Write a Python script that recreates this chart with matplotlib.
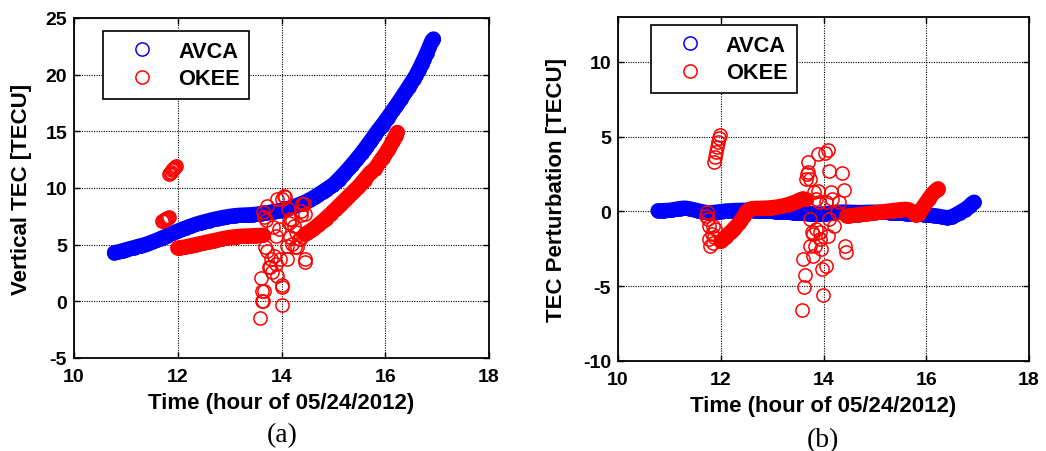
import numpy as np
import matplotlib
matplotlib.use('Agg')
import matplotlib.pyplot as plt

plt.rcParams['font.family'] = ['Liberation Sans', 'DejaVu Sans']
plt.rcParams['font.weight'] = 'bold'
plt.rcParams['axes.unicode_minus'] = False

# AVCA samples (hours UT)
avca_t = [10.78, 10.85, 10.90, 10.95, 11.00, 11.05, 11.10, 11.15, 11.20, 11.25,
          11.30, 11.35, 11.40, 11.45, 11.50, 11.55, 11.60, 11.65, 11.70, 11.75,
          11.80, 11.85, 11.90, 11.95, 12.00, 12.05, 12.10, 12.15, 12.20, 12.25,
          12.30, 12.35, 12.40, 12.45, 12.50, 12.55, 12.60, 12.65, 12.70, 12.75,
          12.80, 12.85, 12.90, 12.95, 13.00, 13.05, 13.10, 13.15, 13.20, 13.25,
          13.30, 13.35, 13.40, 13.45, 13.50, 13.55, 13.60, 13.65, 13.70, 13.75,
          13.80, 13.85, 13.90, 13.95, 14.00, 14.05, 14.10, 14.15, 14.20, 14.25,
          14.30, 14.35, 14.40, 14.45, 14.50, 14.55, 14.60, 14.65, 14.70, 14.75,
          14.80, 14.85, 14.90, 14.95, 15.00, 15.05, 15.10, 15.15, 15.20, 15.25,
          15.30, 15.35, 15.40, 15.45, 15.50, 15.55, 15.60, 15.65, 15.70, 15.75,
          15.80, 15.85, 15.90, 15.95, 16.00, 16.05, 16.10, 16.15, 16.20, 16.25,
          16.30, 16.35, 16.40, 16.45, 16.50, 16.55, 16.60, 16.65, 16.70, 16.75,
          16.80, 16.85, 16.90, 16.93]
avca_vtec = [4.30, 4.36, 4.42, 4.48, 4.55, 4.61, 4.67, 4.73, 4.80, 4.86,
             4.92, 4.98, 5.05, 5.13, 5.22, 5.31, 5.40, 5.50, 5.60, 5.70,
             5.80, 5.90, 6.00, 6.10, 6.20, 6.29, 6.38, 6.47, 6.56, 6.64,
             6.72, 6.80, 6.87, 6.94, 7.00, 7.06, 7.12, 7.18, 7.23, 7.28,
             7.33, 7.38, 7.42, 7.46, 7.50, 7.53, 7.56, 7.58, 7.60, 7.61,
             7.62, 7.63, 7.64, 7.66, 7.68, 7.71, 7.74, 7.77, 7.80, 7.84,
             7.88, 7.92, 7.96, 8.00, 8.05, 8.11, 8.17, 8.23, 8.30, 8.38,
             8.46, 8.55, 8.64, 8.74, 8.85, 8.97, 9.10, 9.24, 9.38, 9.53,
             9.68, 9.83, 9.98, 10.14, 10.30, 10.52, 10.75, 10.99, 11.23, 11.48,
             11.74, 12.00, 12.27, 12.55, 12.83, 13.12, 13.42, 13.73, 14.04, 14.36,
             14.68, 15.00, 15.30, 15.60, 15.90, 16.22, 16.54, 16.87, 17.20, 17.53,
             17.87, 18.21, 18.56, 18.91, 19.27, 19.63, 20.00, 20.45, 20.92, 21.40,
             21.90, 22.45, 23.00, 23.15]
avca_dtec = [0.05, 0.05, 0.06, 0.07, 0.08, 0.10, 0.13, 0.16, 0.19, 0.21,
             0.22, 0.20, 0.17, 0.13, 0.09, 0.05, 0.01, -0.03, -0.06, -0.08,
             -0.08, -0.07, -0.05, -0.03, -0.01, 0.01, 0.03, 0.04, 0.05, 0.06,
             0.07, 0.07, 0.08, 0.08, 0.08, 0.07, 0.07, 0.06, 0.05, 0.04,
             0.03, 0.02, 0.01, 0.00, 0.00, -0.01, -0.02, -0.03, -0.04, -0.05,
             -0.06, -0.07, -0.08, -0.09, -0.10, -0.11, -0.12, -0.13, -0.14, -0.15,
             -0.16, -0.17, -0.18, -0.18, -0.17, -0.15, -0.13, -0.10, -0.08, -0.06,
             -0.05, -0.04, -0.04, -0.04, -0.05, -0.06, -0.06, -0.07, -0.07, -0.07,
             -0.06, -0.06, -0.05, -0.05, -0.05, -0.05, -0.05, -0.06, -0.06, -0.07,
             -0.08, -0.09, -0.10, -0.11, -0.12, -0.13, -0.14, -0.15, -0.16, -0.17,
             -0.18, -0.19, -0.20, -0.21, -0.22, -0.24, -0.26, -0.28, -0.30, -0.33,
             -0.36, -0.39, -0.41, -0.40, -0.35, -0.27, -0.18, -0.08, 0.02, 0.12,
             0.24, 0.38, 0.55, 0.62]

# OKEE, continuous arcs before and after the disturbance
okee_band1_t = [12.00, 12.05, 12.10, 12.15, 12.20, 12.25, 12.30, 12.35, 12.40, 12.45,
                12.50, 12.55, 12.60, 12.65, 12.70, 12.75, 12.80, 12.85, 12.90, 12.95,
                13.00, 13.05, 13.10, 13.15, 13.20, 13.25, 13.30, 13.35, 13.40, 13.45,
                13.50, 13.55, 13.60, 13.65]
okee_band1_vtec = [4.70, 4.73, 4.77, 4.81, 4.86, 4.91, 4.96, 5.01, 5.06, 5.11,
                   5.16, 5.21, 5.26, 5.31, 5.36, 5.41, 5.46, 5.51, 5.56, 5.60,
                   5.64, 5.67, 5.70, 5.72, 5.74, 5.75, 5.76, 5.77, 5.78, 5.79,
                   5.80, 5.81, 5.82, 5.84]
okee_band1_dtec = [-2.00, -1.85, -1.68, -1.52, -1.35, -1.18, -1.00, -0.80, -0.58, -0.30,
                   -0.02, 0.12, 0.18, 0.20, 0.21, 0.21, 0.22, 0.22, 0.23, 0.24,
                   0.26, 0.28, 0.30, 0.33, 0.36, 0.40, 0.45, 0.50, 0.56, 0.62,
                   0.70, 0.78, 0.85, 0.80]

okee_band2_t = [14.45, 14.50, 14.55, 14.60, 14.65, 14.70, 14.75, 14.80, 14.85, 14.90,
                14.95, 15.00, 15.05, 15.10, 15.15, 15.20, 15.25, 15.30, 15.35, 15.40,
                15.45, 15.50, 15.55, 15.60, 15.65, 15.70, 15.75, 15.80, 15.85, 15.90,
                15.95, 16.00, 16.05, 16.10, 16.15, 16.20, 16.23]
okee_band2_vtec = [5.90, 6.05, 6.20, 6.35, 6.52, 6.70, 6.90, 7.10, 7.30, 7.50,
                   7.72, 7.95, 8.17, 8.40, 8.62, 8.85, 9.07, 9.30, 9.52, 9.75,
                   9.97, 10.20, 10.47, 10.75, 11.02, 11.30, 11.50, 11.70, 12.00, 12.35,
                   12.68, 13.00, 13.37, 13.75, 14.17, 14.60, 14.90]
okee_band2_dtec = [-0.30, -0.29, -0.27, -0.25, -0.23, -0.21, -0.19, -0.17, -0.15, -0.13,
                   -0.11, -0.09, -0.07, -0.04, -0.02, 0.00, 0.02, 0.04, 0.06, 0.08,
                   0.10, 0.12, 0.13, 0.14, 0.12, 0.05, -0.10, -0.25, -0.15, 0.10,
                   0.35, 0.60, 0.85, 1.08, 1.28, 1.45, 1.52]

# OKEE, short jumpy segment just before 12 UT
okee_early_t_a = [11.70, 11.72, 11.74, 11.76, 11.78, 11.80, 11.82, 11.84,
                  11.83, 11.85, 11.87, 11.89, 11.91, 11.93, 11.95, 11.97]
okee_early_vtec = [7.05, 7.10, 7.15, 7.25, 7.30, 7.35, 7.38, 7.40,
                   11.25, 11.35, 11.45, 11.55, 11.65, 11.75, 11.85, 11.95]
okee_early_t_b = [11.72, 11.74, 11.75, 11.78, 11.78, 11.80, 11.82, 11.84, 11.85,
                  11.86, 11.88, 11.87, 11.88, 11.90, 11.92, 11.95, 11.97, 11.99]
okee_early_dtec = [-0.30, -0.07, -0.52, -0.96, -1.86, -2.30, -1.52, -2.08, -0.96,
                   -1.74, -1.20, 3.28, 3.61, 3.95, 4.28, 4.62, 4.89, 5.11]

# OKEE, scattered samples around 14 UT
okee_burst_t_a = [13.59, 13.62, 13.63, 13.65, 13.61, 13.66, 13.65, 13.72, 13.67, 13.70,
                  13.69, 13.73, 13.79, 13.76, 13.78, 13.82, 13.85, 13.89, 13.92, 13.84,
                  13.89, 13.95, 13.92, 13.97, 14.00, 14.00, 14.01, 14.05, 14.01, 14.07,
                  14.13, 14.11, 14.17, 14.20, 14.24, 14.27, 14.21, 14.17, 14.11, 14.26,
                  14.30, 14.34, 14.36, 14.37, 14.40, 14.43, 14.45, 14.46, 14.46, 14.15,
                  14.38]
okee_burst_vtec = [-1.45, 0.90, 0.06, 0.00, 2.03, 0.94, 7.85, 8.40, 7.41, 7.20,
                   4.76, 4.40, 3.73, 3.00, 3.05, 2.56, 4.03, 3.29, 2.26, 6.53,
                   5.80, 6.40, 9.03, 3.73, -0.30, 1.30, 1.44, 9.32, 9.03, 9.25,
                   8.15, 3.73, 7.30, 7.20, 6.68, 6.10, 5.06, 5.65, 4.91, 4.80,
                   4.80, 5.50, 5.50, 8.00, 8.59, 8.59, 7.70, 3.73, 3.44, 6.90,
                   7.60]
okee_burst_t_b = [13.59, 13.62, 13.64, 13.60, 13.66, 13.67, 13.70, 13.74, 13.77, 13.74,
                  13.80, 13.81, 13.86, 13.90, 13.93, 13.96, 13.98, 13.99, 14.02, 14.08,
                  14.11, 14.05, 14.14, 14.17, 14.11, 14.20, 14.26, 14.30, 14.36, 14.39,
                  14.42, 14.44, 14.09, 13.86, 13.93, 14.05, 13.70, 13.73, 13.89, 13.92,
                  13.79, 13.83]
okee_burst_dtec = [-6.58, -5.02, -4.26, -3.15, 2.17, 2.50, 3.28, -0.51, -1.40, -2.30,
                   -2.97, 1.27, 0.83, 3.84, -1.40, -2.52, -3.82, -5.60, 3.91, 4.13,
                   2.72, 0.60, 1.27, 0.83, -0.51, -0.96, -0.07, 0.60, 2.57, 1.45,
                   -2.30, -2.74, -1.63, -1.18, -1.85, -3.64, 2.61, 2.16, 1.38, 0.60,
                   -1.52, -2.30]

xticks = [10, 12, 14, 16, 18]
xlabel = 'Time (hour of 05/24/2012)'

MS = 9.5    # ring size, points
MEW = 1.1   # ring edge width, points


def ring_plot(ax, t, v, color, label=None):
    ax.plot(t, v, 'o', ls='none', mfc='none', mec=color, ms=MS, mew=MEW,
            label=label, zorder=3)


def arc_plot(ax, t, v, color):
    # densely sampled arcs: the overlapping rings merge into one solid track
    ax.plot(t, v, '-', color=color, lw=MS + MEW + 0.4, solid_capstyle='round',
            solid_joinstyle='round', zorder=3)


def style_axes(ax, ylim, yticks, ylabel, ylab_x):
    ax.set_xlim(10, 18)
    ax.set_ylim(*ylim)
    ax.set_xticks(xticks)
    ax.set_yticks(yticks)
    ax.grid(True, color='black', linestyle=(0, (1, 1.2)), linewidth=0.8)
    ax.set_axisbelow(True)
    ax.tick_params(direction='in', top=True, right=True, length=4, width=1,
                   labelsize=14)
    ax.tick_params(axis='x', pad=7)
    ax.tick_params(axis='y', pad=5)
    for s in ax.spines.values():
        s.set_linewidth(1.3)
    ax.set_xlabel(xlabel, fontsize=16, fontweight='bold')
    ax.xaxis.set_label_coords(0.5, -0.10)
    ax.set_ylabel(ylabel, fontsize=16, fontweight='bold')
    ax.yaxis.set_label_coords(ylab_x, 0.5)


def add_legend(ax, anchor):
    leg = ax.legend(loc='upper left', bbox_to_anchor=anchor, borderaxespad=0,
                    fontsize=15.7, handlelength=2.66, handletextpad=0.33,
                    borderpad=0.45, labelspacing=0.3, fancybox=False,
                    edgecolor='black', framealpha=1, numpoints=1)
    leg.get_frame().set_linewidth(1.2)
    leg.set_zorder(5)
    for txt in leg.get_texts():
        txt.set_fontweight('bold')


fig = plt.figure(figsize=(10.46, 4.52), dpi=100)
ax_a = fig.add_axes([74 / 1046, 1 - 359 / 452, 415 / 1046, 340 / 452])
ax_b = fig.add_axes([618 / 1046, 1 - 362 / 452, 411 / 1046, 344 / 452])

# (a) vertical TEC
arc_plot(ax_a, avca_t, avca_vtec, 'blue')
ring_plot(ax_a, avca_t, avca_vtec, 'blue', 'AVCA')
arc_plot(ax_a, okee_band1_t, okee_band1_vtec, 'red')
arc_plot(ax_a, okee_band2_t, okee_band2_vtec, 'red')
okee_t_a = np.concatenate([okee_early_t_a, okee_band1_t, okee_burst_t_a, okee_band2_t])
okee_v_a = np.concatenate([okee_early_vtec, okee_band1_vtec, okee_burst_vtec, okee_band2_vtec])
ring_plot(ax_a, okee_t_a, okee_v_a, 'red', 'OKEE')
style_axes(ax_a, (-5, 25), [-5, 0, 5, 10, 15, 20, 25], 'Vertical TEC [TECU]', -0.10)
add_legend(ax_a, (0.070, 0.962))

# (b) TEC perturbation
arc_plot(ax_b, avca_t, avca_dtec, 'blue')
ring_plot(ax_b, avca_t, avca_dtec, 'blue', 'AVCA')
arc_plot(ax_b, okee_band1_t, okee_band1_dtec, 'red')
arc_plot(ax_b, okee_band2_t, okee_band2_dtec, 'red')
okee_t_b = np.concatenate([okee_early_t_b, okee_band1_t, okee_burst_t_b, okee_band2_t])
okee_v_b = np.concatenate([okee_early_dtec, okee_band1_dtec, okee_burst_dtec, okee_band2_dtec])
ring_plot(ax_b, okee_t_b, okee_v_b, 'red', 'OKEE')
style_axes(ax_b, (-10, 13), [-10, -5, 0, 5, 10], 'TEC Perturbation [TECU]', -0.124)
add_legend(ax_b, (0.080, 0.977))

fig.text(282 / 1046, 1 - 436 / 452, '(a)', family='Liberation Serif',
         fontweight='normal', fontsize=20, ha='center', va='center')
fig.text(823 / 1046, 1 - 441 / 452, '(b)', family='Liberation Serif',
         fontweight='normal', fontsize=20, ha='center', va='center')

fig.savefig('out.png', dpi=100)
